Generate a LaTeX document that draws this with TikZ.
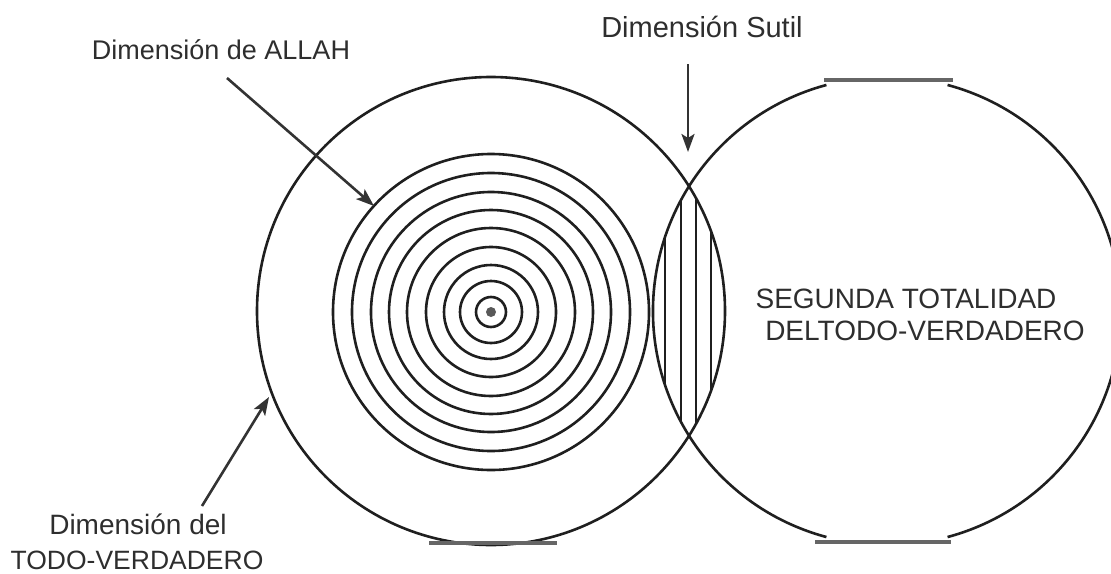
\documentclass[tikz,border=0pt]{standalone}
\usepackage{fontspec}
\setmainfont{Liberation Sans}
\usetikzlibrary{arrows.meta}
\begin{document}
\begin{tikzpicture}[x=1pt,y=-1pt,
  ring/.style={draw=black!88,line width=2.6pt},
  hatch/.style={draw=black!88,line width=2.4pt},
  lbl/.style={font=\fontsize{27}{31}\selectfont, text=black!82, inner sep=0pt},
  ptr/.style={draw=black!80, line width=2.6pt, -{Stealth[length=18pt,width=13pt,inset=4pt]}},
  flat/.style={draw=black!60, line width=3.2pt}]
\useasboundingbox (0,0) rectangle (1111,573);
\begin{scope}
\clip (0,0) rectangle (1111,573);
\coordinate (L) at (491,311);
\coordinate (R) at (887,311);
\coordinate (C) at (491,312);
% left big circle
\draw[ring] (L) circle[radius=234];
% right big circle with gaps at top and bottom
\draw[ring] (R) ++(105:234) arc[start angle=105,end angle=255,radius=234];
\draw[ring] (R) ++(285:234) arc[start angle=285,end angle=435,radius=234];
% concentric rings
\foreach \r in {15,31,47,65,84,102,120,139,158}
  \draw[ring] (C) circle[radius=\r];
\fill[black!65] (C) circle[radius=5];
% lens hatching
\begin{scope}
  \clip (L) circle[radius=234];
  \clip (R) circle[radius=234];
  \foreach \x in {665,681,696,711}
    \draw[hatch] (\x,150) -- (\x,470);
\end{scope}
% flat bars
\draw[flat] (429,543) -- (557,543);
\draw[flat] (824,80) -- (953,80);
\draw[flat] (815,542) -- (951,542);
\end{scope}
% labels
\node[lbl] (allah) at (221,50) {Dimensión de ALLAH};
\node[lbl, font=\fontsize{29}{31}\selectfont] (sutil) at (702,27) {Dimensión Sutil};
\node[lbl, font=\fontsize{28}{31}\selectfont] (segunda) at (906,299) {SEGUNDA TOTALIDAD};
\node[lbl, font=\fontsize{28}{31}\selectfont] (deltodo) at (925,331) {DELTODO-VERDADERO};
\node[lbl, font=\fontsize{28}{31}\selectfont] (dimdel) at (138,524) {Dimensión del};
\node[lbl, font=\fontsize{26.5}{31}\selectfont] (todo) at (137,560) {TODO-VERDADERO};
% arrows
\coordinate (a1s) at (227,78);
\coordinate (a1e) at (374,206);
\coordinate (a2s) at (688,64);
\coordinate (a2e) at (688,152);
\coordinate (a3s) at (202,506);
\coordinate (a3e) at (269,397);
\draw[ptr] (a1s) -- (a1e);
\draw[ptr] (a2s) -- (a2e);
\draw[ptr] (a3s) -- (a3e);
\end{tikzpicture}
\end{document}
